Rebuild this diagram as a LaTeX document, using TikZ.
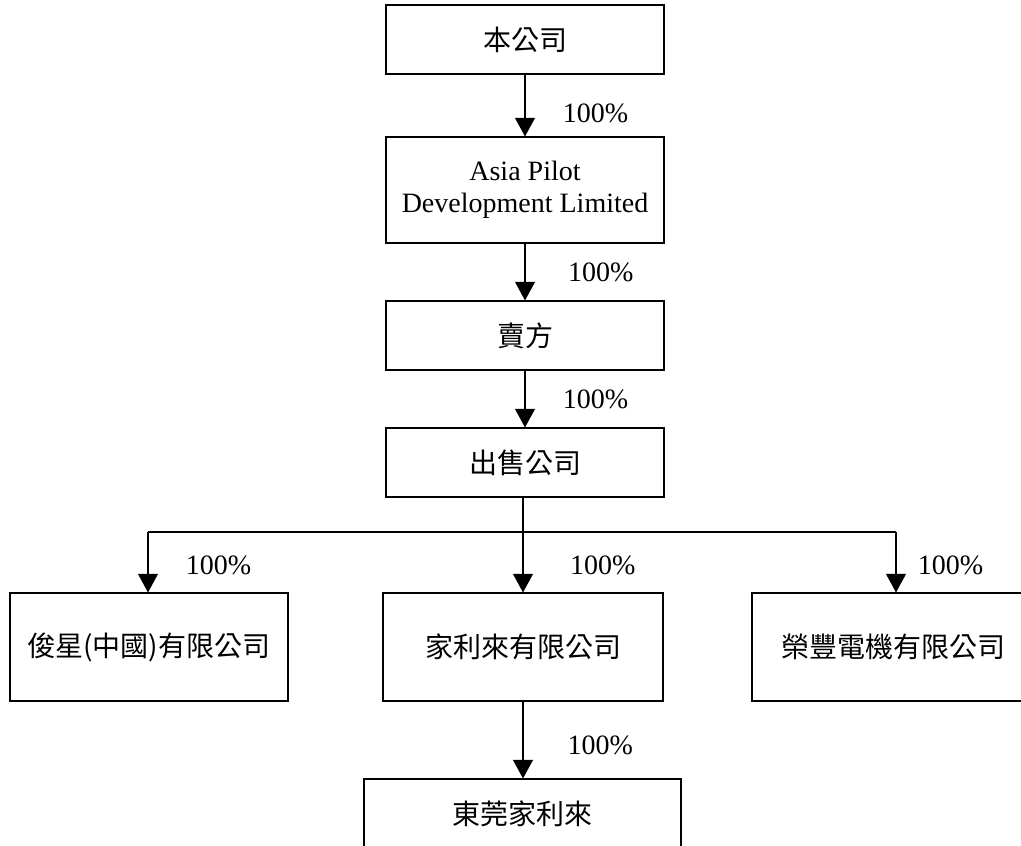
\documentclass[tikz,border=0pt]{standalone}
\usepackage{fontspec}
\setmainfont{Liberation Serif}
\newfontfamily\cjk{Noto Sans CJK TC}
\usepackage{tikz}
\usetikzlibrary{arrows.meta, positioning}

\begin{document}
\begin{tikzpicture}[
    x=0.75pt, y=-0.75pt,
    font=\fontsize{21}{24}\selectfont,
    entity/.style={rectangle, draw=black, line width=0.8pt, minimum width=208.5pt, minimum height=51.75pt, align=center, inner sep=2pt},
    tallentity/.style={entity, minimum height=79.5pt},
    subentity/.style={entity, minimum height=81pt},
    arrow/.style={-{Triangle[length=14pt, width=15pt]}, line width=0.8pt},
    link/.style={line width=0.8pt},
    pct/.style={anchor=west, inner sep=0pt}
]

\useasboundingbox (0,0) rectangle (1021,846);
\clip (0,0) rectangle (1021,846);

% Holding chain
\node[entity] (company) at (525,39.5) {\cjk 本公司};
\node[tallentity] (apd) at (525,190) {Asia Pilot\\Development Limited};
\node[entity] (seller) at (525,335.5) {\cjk 賣方};
\node[entity] (saleco) at (525,462.5) {\cjk 出售公司};

% Subsidiaries
\node[subentity] (junxing) at (149,647) {\cjk 俊星(中國)有限公司};
\node[subentity, minimum width=210pt] (jialilai) at (523,647) {\cjk 家利來有限公司};
\node[subentity, minimum width=211.5pt] (rongfeng) at (893,647) {\cjk 榮豐電機有限公司};
\node[entity, minimum width=237.75pt] (dongguan) at (522.5,813.5) {\cjk 東莞家利來};

% Ownership arrows
\draw[arrow] (company) -- (apd) node[pct, midway, xshift=28pt, yshift=-6pt] (p1) {100\%};
\draw[arrow] (apd) -- (seller) node[pct, midway, xshift=32pt] (p2) {100\%};
\draw[arrow] (seller) -- (saleco) node[pct, midway, xshift=28pt] (p3) {100\%};

% Branch to subsidiaries
\coordinate (lsplit) at (148,532);
\coordinate (split) at (523,532);
\coordinate (rsplit) at (896,532);
\draw[link] (saleco.south -| split) -- (split);
\draw[link] (lsplit) -- (rsplit);
\draw[arrow] (lsplit) -- (junxing.north -| lsplit) node[pct, midway, xshift=28pt, yshift=-2pt] (p4) {100\%};
\draw[arrow] (split) -- (jialilai.north -| split) node[pct, midway, xshift=35pt, yshift=-2pt] (p5) {100\%};
\draw[arrow] (rsplit) -- (rongfeng.north -| rsplit) node[pct, midway, xshift=16pt, yshift=-2pt] (p6) {100\%};

\draw[arrow] (jialilai.south -| split) -- (dongguan.north -| split) node[pct, midway, xshift=33pt, yshift=-4pt] (p7) {100\%};

\end{tikzpicture}
\end{document}
